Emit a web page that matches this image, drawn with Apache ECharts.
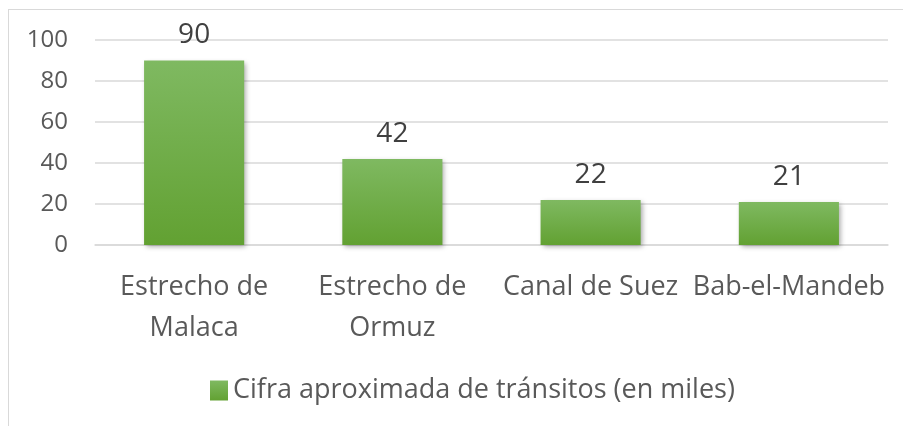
<!DOCTYPE html>
<html><head><meta charset="utf-8">
<script src="https://cdn.jsdelivr.net/npm/echarts@6/dist/echarts.min.js"></script>
<style>
html,body{margin:0;padding:0;background:#fff;}
#frame{position:absolute;left:8px;top:9px;width:1000px;height:1000px;border-left:1.5px solid #d9d9d9;border-top:1.5px solid #d9d9d9;}
#c{position:absolute;left:0;top:0;width:903px;height:426px;}
</style></head>
<body>
<div id="frame"></div>
<div id="c"></div>
<script>
const categories = ['Estrecho de\nMalaca', 'Estrecho de\nOrmuz', 'Canal de Suez', 'Bab-el-Mandeb'];
const values = [90, 42, 22, 21];
const seriesName = 'Cifra aproximada de tránsitos (en miles)';
const yTicks = [0, 20, 40, 60, 80, 100];

const FONT = '"Open Sans", sans-serif';
const chart = echarts.init(document.getElementById('c'), null, {renderer: 'canvas'});
const green = new echarts.graphic.LinearGradient(0, 0, 0, 1, [
  {offset: 0, color: '#7fb961'},
  {offset: 1, color: '#62a132'}
]);
chart.setOption({
  animation: false,
  backgroundColor: 'transparent',
  grid: {left: 95, right: 15, top: 40, bottom: 181, containLabel: false},
  legend: {
    data: [seriesName],
    bottom: 17, left: 205,
    itemWidth: 18, itemHeight: 20, itemGap: 8,
    icon: 'rect',
    textStyle: {fontFamily: FONT, fontSize: 27, color: '#595959'}
  },
  xAxis: {
    type: 'category',
    data: categories,
    axisLine: {show: true, lineStyle: {color: '#d9d9d9', width: 1.5}},
    axisTick: {show: false},
    axisLabel: {interval: 0, margin: 22, fontFamily: FONT, fontSize: 27, color: '#595959', lineHeight: 41}
  },
  yAxis: {
    type: 'value',
    min: yTicks[0], max: yTicks[yTicks.length - 1], interval: 20,
    axisLine: {show: false},
    axisTick: {show: false},
    splitLine: {lineStyle: {color: '#d9d9d9', width: 1.5}},
    axisLabel: {margin: 27, fontFamily: FONT, fontSize: 24, color: '#595959'}
  },
  series: [{
    name: seriesName,
    type: 'bar',
    data: values,
    barWidth: '50.5%',
    itemStyle: {color: green, shadowBlur: 5, shadowOffsetX: 2, shadowOffsetY: 2, shadowColor: 'rgba(0,0,0,0.35)'},
    label: {show: true, position: 'top', distance: 11, fontFamily: FONT, fontSize: 28, color: '#404040'}
  }]
});
</script>
</body></html>
